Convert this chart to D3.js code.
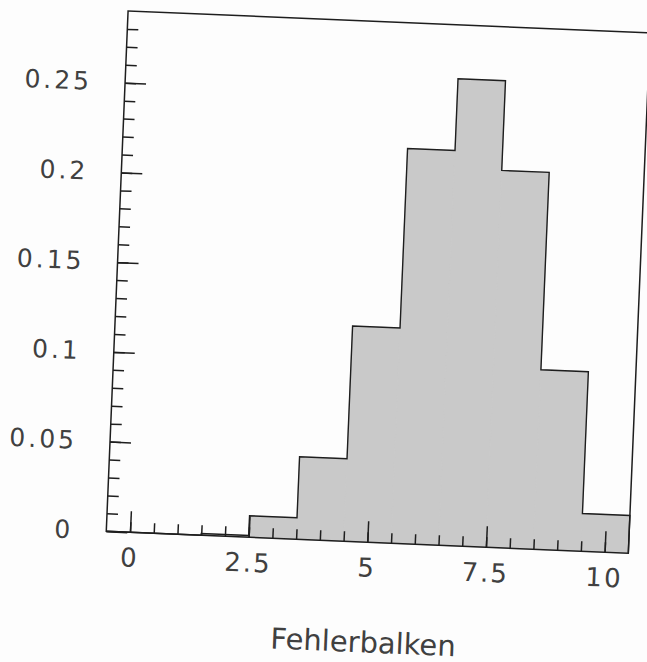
<!DOCTYPE html>
<html>
<head>
<meta charset="utf-8">
<script src="https://cdn.jsdelivr.net/npm/d3@7"></script>
<style>
  html, body { margin: 0; padding: 0; background: #fdfdfd; }
  svg { display: block; }
  .lbl { font-family: "DejaVu Sans", sans-serif; fill: #404040; }
</style>
</head>
<body>
<svg id="chart" width="647" height="662"></svg>
<script>
// Histogram bins (centre of each unit-wide bin) and the fraction in each
const binCenters = [0, 1, 2, 3, 4, 5, 6, 7, 8, 9, 10];
const binWidth = 1;
const fractions = [0, 0, 0.001, 0.012, 0.046, 0.12, 0.22, 0.26, 0.21, 0.1, 0.021];

// Axis ranges, tick values and title
const xRange = [-0.5, 10.5];
const yRange = [0, 0.29];
const xMajorTicks = [0, 2.5, 5, 7.5, 10];
const xMinorTicks = d3.range(0, 21).map(i => i / 2);
const yMajorTicks = [0, 0.05, 0.1, 0.15, 0.2, 0.25];
const yMinorTicks = d3.range(1, 29).map(i => i / 100);
const xTitle = "Fehlerbalken";

const svg = d3.select("#chart");

const x = d3.scaleLinear().domain(xRange).range([106.25, 628.75]);
const y = d3.scaleLinear().domain(yRange).range([532.3, 11.5]);

// the whole plot sits slightly tilted on the page
const tilt = 2.4;
const g = svg.append("g")
  .attr("transform", `rotate(${tilt},${x(0)},${y(0)})`);

const bins = binCenters.map((c, i) => ({
  x0: c - binWidth / 2,
  x1: c + binWidth / 2,
  v: fractions[i]
}));

const fillGrey = "#c9c9c9";

// filled bars (thin same-colour stroke closes the seams between neighbours)
g.append("g")
  .selectAll("rect")
  .data(bins.filter(b => b.v > 0))
  .join("rect")
  .attr("x", d => x(d.x0))
  .attr("width", d => x(d.x1) - x(d.x0))
  .attr("y", d => y(d.v))
  .attr("height", d => y(0) - y(d.v))
  .attr("fill", fillGrey)
  .attr("stroke", fillGrey)
  .attr("stroke-width", 1);

// step outline of the histogram
const outlinePts = [[bins[0].x0, 0]];
bins.forEach(b => { outlinePts.push([b.x0, b.v]); outlinePts.push([b.x1, b.v]); });
outlinePts.push([bins[bins.length - 1].x1, 0]);
g.append("path")
  .attr("d", d3.line().x(p => x(p[0])).y(p => y(p[1]))(outlinePts))
  .attr("fill", "none")
  .attr("stroke", "#1e1e1e")
  .attr("stroke-width", 1.4);

// axes: inward ticks, long at labelled values
function styleAxis(sel) {
  sel.select(".domain").remove();
  sel.selectAll(".tick line").attr("stroke", "#1e1e1e").attr("stroke-width", 1.5);
  sel.selectAll("text")
    .attr("class", "lbl")
    .attr("fill", "#404040")
    .style("font-family", "'DejaVu Sans', sans-serif")
    .style("font-size", "26px")
    .style("letter-spacing", "2px");
}

g.append("g")
  .attr("transform", `translate(0,${y(0)})`)
  .call(d3.axisBottom(x).tickValues(xMinorTicks).tickSize(-10).tickFormat(""))
  .call(styleAxis);

g.append("g")
  .attr("transform", `translate(0,${y(0)})`)
  .call(d3.axisBottom(x).tickValues(xMajorTicks).tickSize(-21).tickPadding(16)
    .tickFormat(d3.format("~g")))
  .call(styleAxis);

g.append("g")
  .attr("transform", `translate(${x(xRange[0])},0)`)
  .call(d3.axisLeft(y).tickValues(yMinorTicks).tickSize(-11).tickFormat(""))
  .call(styleAxis);

g.append("g")
  .attr("transform", `translate(${x(xRange[0])},0)`)
  .call(d3.axisLeft(y).tickValues(yMajorTicks).tickSize(-21).tickPadding(33)
    .tickFormat(d3.format("~g")))
  .call(styleAxis)
  .call(s => s.selectAll("text").style("font-size", "25px").style("letter-spacing", "3px"));

// frame
g.append("rect")
  .attr("x", x(xRange[0]))
  .attr("y", y(yRange[1]))
  .attr("width", x(xRange[1]) - x(xRange[0]))
  .attr("height", y(yRange[0]) - y(yRange[1]))
  .attr("fill", "none")
  .attr("stroke", "#1e1e1e")
  .attr("stroke-width", 1.5);

// axis title
g.append("text")
  .attr("class", "lbl")
  .attr("x", (x(xRange[0]) + x(xRange[1])) / 2)
  .attr("y", 642.5)
  .attr("text-anchor", "middle")
  .style("font-size", "29px")
  .text(xTitle);
</script>
</body>
</html>
